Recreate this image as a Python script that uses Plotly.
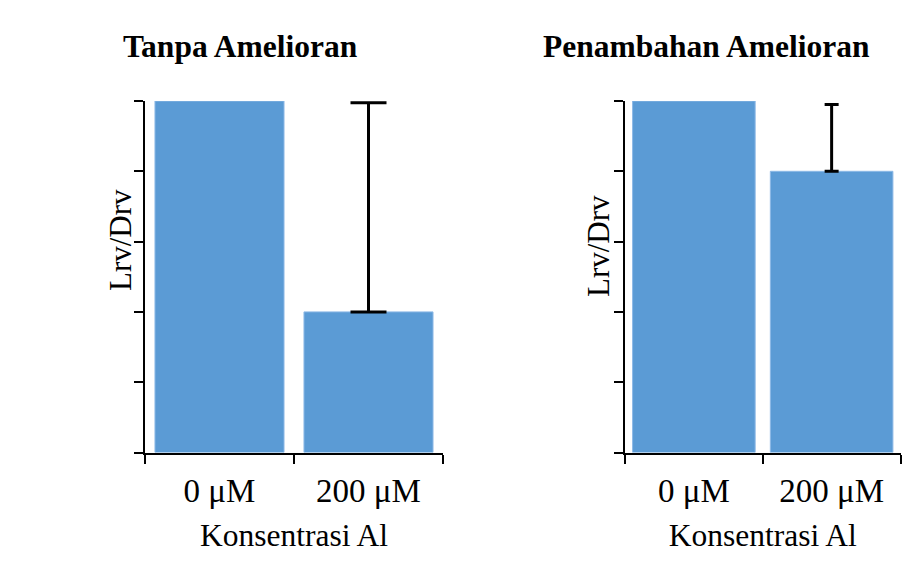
import plotly.graph_objects as go

# Root length ratio (Lrv/Drv) under two aluminium concentrations
categories = ["0 μM", "200 μM"]
panel_titles = ["Tanpa Amelioran", "Penambahan Amelioran"]
values_tanpa = [1.0, 0.4]
err_tanpa = 0.595          # upper error on the 200 μM bar
values_amel = [1.0, 0.8]
err_amel = 0.19            # upper error on the 200 μM bar

W, H = 917, 581
BAR = "#5B9BD5"
FONT = "Liberation Serif"

fig = go.Figure()


def add_panel(values, err, barw, capw, xa, ya):
    marker = dict(color=BAR, line=dict(color="#8db9e6", width=1))
    # control bar (no error bar)
    fig.add_trace(go.Bar(x=categories[:1], y=values[:1], width=barw, marker=marker,
                         xaxis=xa, yaxis=ya, showlegend=False))
    # aluminium-treated bar with an upper error bar
    fig.add_trace(go.Bar(
        x=categories[1:], y=values[1:], width=barw, marker=marker,
        error_y=dict(type="data", symmetric=False, array=[err], arrayminus=[0],
                     color="black", thickness=3, width=capw),
        xaxis=xa, yaxis=ya, showlegend=False,
    ))


add_panel(values_tanpa, err_tanpa, 0.866, 18, "x", "y")
add_panel(values_amel, err_amel, 0.89, 7, "x2", "y2")

ydom = [1 - 452.5 / H, 1 - 101 / H]

xcommon = dict(
    type="category", categoryorder="array", categoryarray=categories,
    range=[-0.5, 1.5], showline=True, linecolor="black",
    linewidth=2, ticks="outside", tickson="boundaries", ticklen=9,
    tickwidth=2, tickcolor="black", showgrid=False, zeroline=False,
    ticklabelstandoff=8,
    tickfont=dict(family=FONT, size=33, color="black"),
    title=dict(text="Konsentrasi Al", font=dict(family=FONT, size=31.5, color="black"),
               standoff=16),
)
ycommon = dict(
    range=[0, 1], dtick=0.2, showline=True, linecolor="black", linewidth=2,
    ticks="outside", ticklen=9, tickwidth=2, tickcolor="black",
    showticklabels=False, showgrid=False, zeroline=False, domain=ydom,
)

fig.update_layout(
    width=W, height=H, margin=dict(l=0, r=0, t=0, b=0),
    paper_bgcolor="white", plot_bgcolor="white", barmode="overlay",
    xaxis=dict(domain=[145 / W, 443 / W], anchor="y", **xcommon),
    yaxis=dict(anchor="x", **ycommon),
    xaxis2=dict(domain=[625 / W, 900.5 / W], anchor="y2", **xcommon),
    yaxis2=dict(anchor="x2", **ycommon),
)

# Panel titles
for cx, txt in zip([240, 706], panel_titles):
    fig.add_annotation(
        text=f"<b>{txt}</b>", x=cx / W, y=1 - 47 / H, xref="paper", yref="paper",
        xanchor="center", yanchor="middle", showarrow=False,
        font=dict(family=FONT, size=31.5, color="black"),
    )

# Y-axis titles
for cx, cy in [(121, 240), (598, 246)]:
    fig.add_annotation(
        text="Lrv/Drv", x=cx / W, y=1 - cy / H, xref="paper", yref="paper",
        xanchor="center", yanchor="middle", textangle=-90, showarrow=False,
        font=dict(family=FONT, size=31, color="black"),
    )

fig.write_html("out.html")
